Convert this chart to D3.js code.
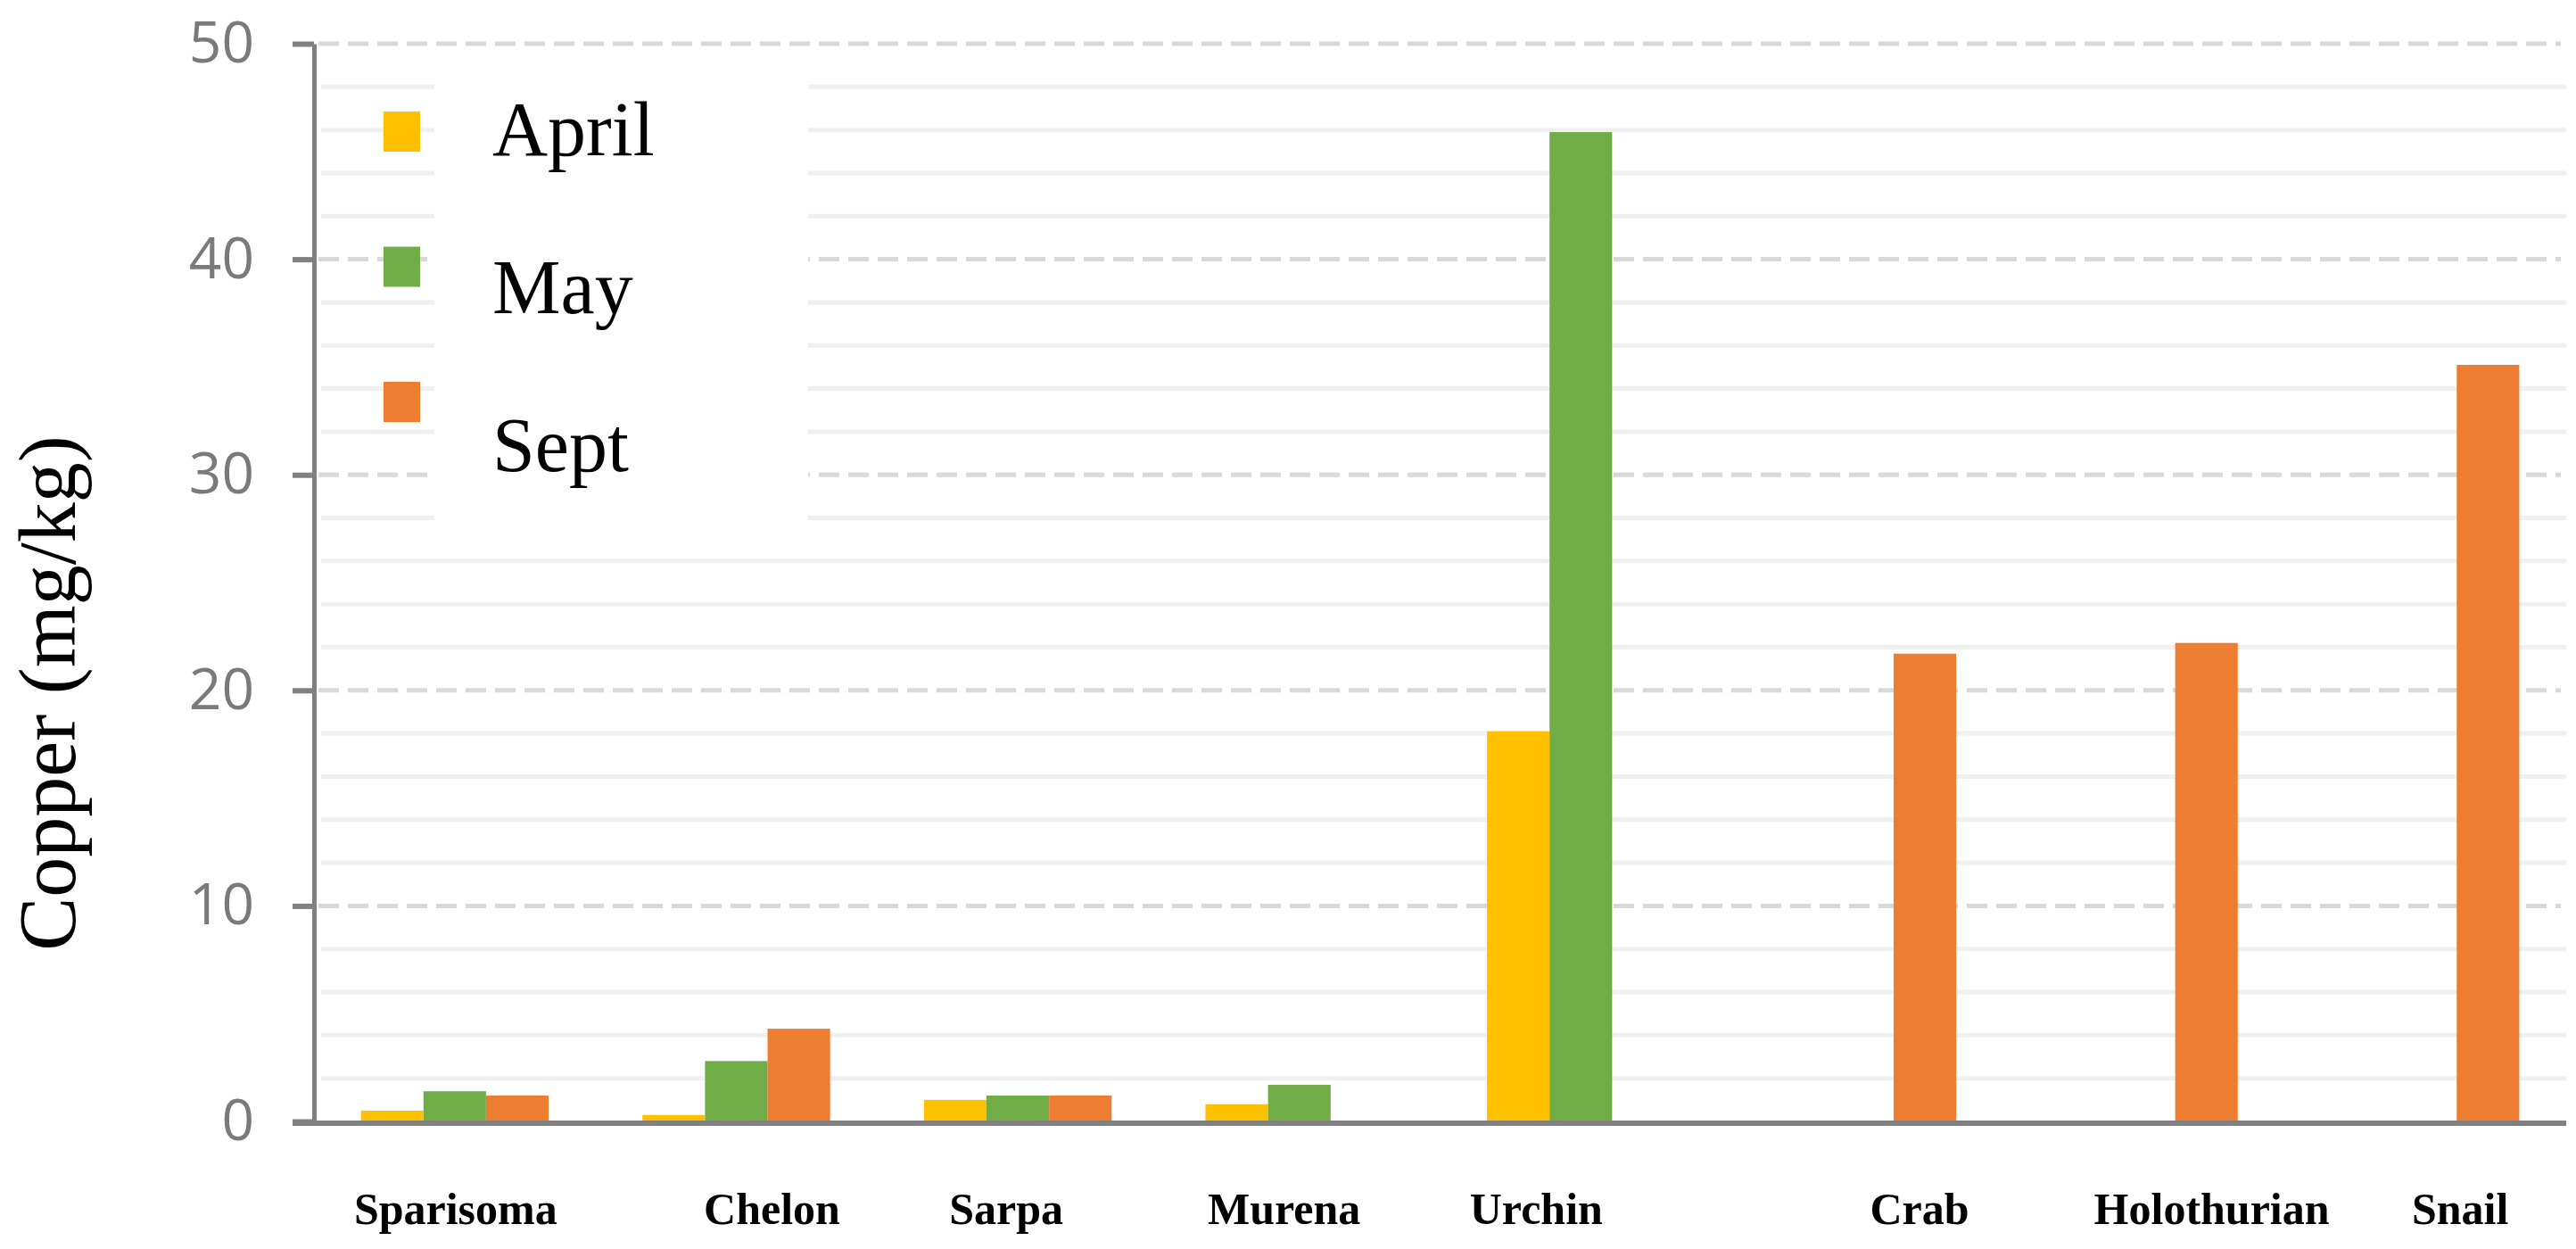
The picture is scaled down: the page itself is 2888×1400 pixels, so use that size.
<!DOCTYPE html>
<html>
<head>
<meta charset="utf-8">
<script src="https://cdn.jsdelivr.net/npm/d3@7/dist/d3.min.js"></script>
<style>
  html, body { margin: 0; padding: 0; background: #ffffff; }
  svg { display: block; }
</style>
</head>
<body>
<svg id="chart" width="2888" height="1400"></svg>
<script>
// ---------------- data ----------------
const categories = ["Sparisoma", "Chelon", "Sarpa", "Murena", "Urchin", "Crab", "Holothurian", "Snail"];
const seriesNames = ["April", "May", "Sept"];
const aprilValues = [0.5, 0.3, 1.0, 0.8, 18.1, null, null, null];
const mayValues   = [1.4, 2.8, 1.2, 1.7, 45.9, null, null, null];
const septValues  = [1.2, 4.3, 1.2, null, null, 21.7, 22.2, 35.1];
const yTickValues = [0, 10, 20, 30, 40, 50];
const yTitle = "Copper (mg/kg)";

// ---------------- style / layout ----------------
const colors = ["#FFC000", "#70AD47", "#ED7D31"];
const W = 2888, H = 1400;
const plot = { left: 352, right: 2877, top: 49, bottom: 1257 };
const axisColor = "#808080";
// category labels in the original are hand-placed, slightly off the group centres
const labelNudge = [1, 40, -13, -17, -50, 64, 76, 39];

const svg = d3.select("#chart");
svg.append("rect").attr("width", W).attr("height", H).attr("fill", "#ffffff");

const seriesValues = [aprilValues, mayValues, septValues];
const rows = categories.map((c, i) => ({
  category: c,
  values: seriesNames.map((s, k) => ({ series: s, k: k, value: seriesValues[k][i] }))
}));

const x0 = d3.scaleBand().domain(categories).range([plot.left, plot.right])
  .paddingInner(1 / 3).paddingOuter(1 / 6);
const x1 = d3.scaleBand().domain(seriesNames).range([0, x0.bandwidth()]).padding(0);
const y = d3.scaleLinear().domain([0, 50]).range([plot.bottom, plot.top]);

// minor gridlines (every 2)
const minorTicks = d3.range(2, 50, 2).filter(v => v % 10 !== 0);
svg.append("g").selectAll("line").data(minorTicks).join("line")
  .attr("x1", plot.left + 8).attr("x2", plot.right)
  .attr("y1", d => y(d)).attr("y2", d => y(d))
  .attr("stroke", "#f0f0f0").attr("stroke-width", 5);

// major dashed gridlines
svg.append("g").selectAll("line").data(yTickValues.filter(v => v > 0)).join("line")
  .attr("x1", plot.left + 5).attr("x2", plot.right - 6)
  .attr("y1", d => y(d)).attr("y2", d => y(d))
  .attr("stroke", "#d9d9d9").attr("stroke-width", 5)
  .attr("stroke-dasharray", "23,10");

// legend white box (covers gridlines)
const legend = { boxX: 487, boxY: 70, boxW: 419, boxH: 530, sqX: 430, sqY: 125, sqW: 41, sqH: 45, sqStep: 151.5, textX: 552, textY: 174, textStep: 177 };
svg.append("rect")
  .attr("x", legend.boxX).attr("y", legend.boxY)
  .attr("width", legend.boxW).attr("height", legend.boxH)
  .attr("fill", "#ffffff");

// bars
const groups = svg.append("g").selectAll("g").data(rows).join("g")
  .attr("transform", d => `translate(${x0(d.category)},0)`);
groups.selectAll("rect").data(d => d.values.filter(v => v.value != null)).join("rect")
  .attr("x", d => x1(d.series))
  .attr("width", x1.bandwidth())
  .attr("y", d => y(d.value))
  .attr("height", d => y(0) - y(d.value))
  .attr("fill", d => colors[d.k]);

// y axis
const yAxis = d3.axisLeft(y).tickValues(yTickValues).tickSizeInner(24).tickSizeOuter(0).tickPadding(43);
const gy = svg.append("g").attr("transform", `translate(${plot.left},0)`).call(yAxis);
gy.select(".domain").attr("stroke", axisColor).attr("stroke-width", 5);
gy.selectAll(".tick line").attr("stroke", axisColor).attr("stroke-width", 6);
gy.selectAll(".tick text")
  .attr("font-family", "'Open Sans', sans-serif")
  .attr("font-size", 64)
  .attr("fill", "#7a7a7a");

// x axis line
svg.append("line")
  .attr("x1", plot.left - 24).attr("x2", plot.right)
  .attr("y1", y(0) + 2).attr("y2", y(0) + 2)
  .attr("stroke", axisColor).attr("stroke-width", 6);

// x labels
const xAxis = d3.axisBottom(x0).tickSize(0).tickPadding(0);
const gx = svg.append("g").attr("transform", `translate(0,${plot.bottom})`).call(xAxis);
gx.select(".domain").remove();
gx.selectAll(".tick text")
  .attr("x", (d, i) => labelNudge[i])
  .attr("y", 115).attr("dy", 0)
  .attr("font-family", "'Liberation Serif', 'Times New Roman', serif")
  .attr("font-weight", "bold")
  .attr("font-size", 50)
  .attr("fill", "#000000");

// y title
svg.append("text")
  .attr("transform", `translate(84, 777) rotate(-90)`)
  .attr("text-anchor", "middle")
  .attr("font-family", "'Liberation Serif', 'Times New Roman', serif")
  .attr("font-size", 90)
  .attr("fill", "#000000")
  .text(yTitle);

// legend entries
const lg = svg.append("g");
lg.selectAll("rect").data(seriesNames).join("rect")
  .attr("x", legend.sqX)
  .attr("y", (d, i) => legend.sqY + i * legend.sqStep)
  .attr("width", legend.sqW).attr("height", legend.sqH)
  .attr("fill", (d, i) => colors[i]);
lg.selectAll("text").data(seriesNames).join("text")
  .attr("x", legend.textX)
  .attr("y", (d, i) => legend.textY + i * legend.textStep)
  .attr("font-family", "'Liberation Serif', 'Times New Roman', serif")
  .attr("font-size", 86)
  .attr("fill", "#000000")
  .text(d => d);
</script>
</body>
</html>
